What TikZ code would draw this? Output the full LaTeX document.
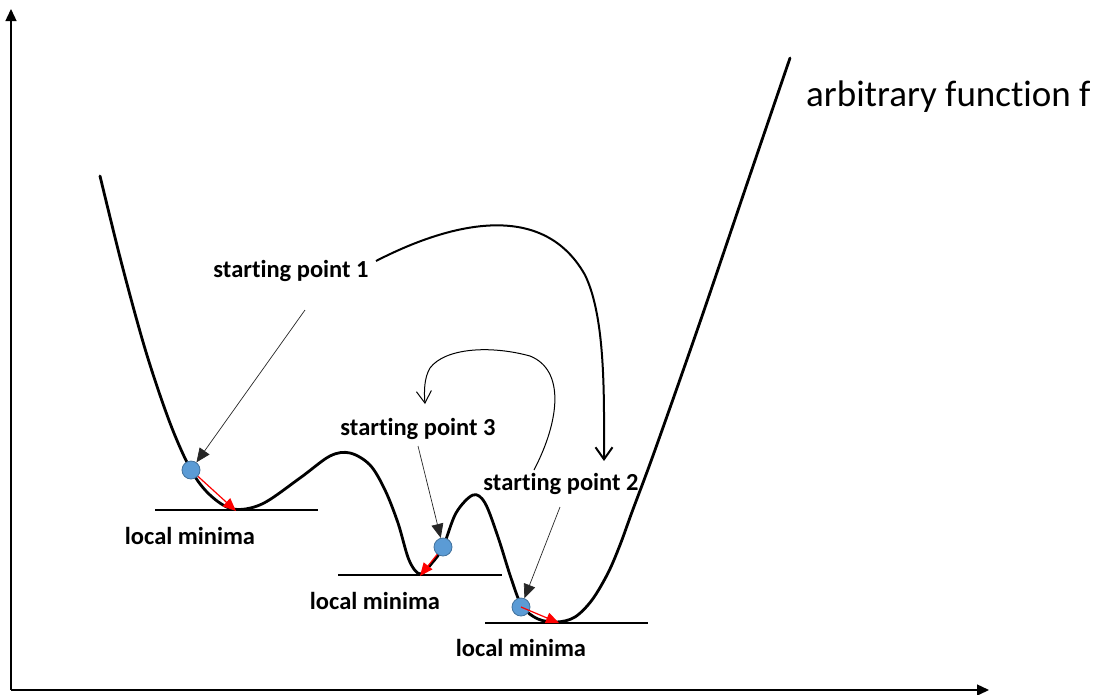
\documentclass[tikz,border=0pt]{standalone}
\usepackage{fontspec}
\setmainfont{Carlito}[Ligatures=NoCommon]
\usetikzlibrary{arrows.meta}
\definecolor{ballfill}{RGB}{91,155,213}
\definecolor{balledge}{RGB}{65,113,156}
\begin{document}
\begin{tikzpicture}[x=1pt,y=-1pt,
  axis/.style={line width=1.4pt,-{Triangle[length=12pt,width=11pt]}},
  func/.style={line width=2.8pt,line join=round,line cap=round},
  level/.style={line width=1.1pt},
  ball/.style={circle,minimum size=18pt,inner sep=0pt,fill=ballfill,draw=balledge,line width=0.8pt},
  grad/.style={red,line width=1.2pt,-{Triangle[length=13pt,width=11pt]}},
  pointer/.style={line width=0.7pt,black!85,-{Triangle[length=14pt,width=12pt]}},
  lbl/.style={font=\bfseries\fontsize{24.5}{28}\selectfont,inner sep=1pt},
  jump/.style={line width=2pt,-{Straight Barb[length=12pt,width=17pt,line width=2pt]}},
  hop/.style={line width=1pt,-{Straight Barb[length=12pt,width=15pt,line width=1pt]}}]
\useasboundingbox (0,0) rectangle (1099,694);

% axes
\coordinate (o) at (11,690);
\coordinate (ytop) at (11,9);
\coordinate (xend) at (989,690);
\draw[axis] (o) -- (ytop);
\draw[axis] (o) -- (xend);

% the function
\draw[func] plot[smooth,tension=0.55] coordinates {
  (100,176) (122,265) (146,352) (170,423) (191,470) (210,495) (233,509)
  (262,504) (300,478) (330,456) (350,453) (370,465) (385,490) (398,523)
  (409,560) (420,574) (432,563) (443,547) (456,513) (473,495) (485,503)
  (498,537) (511,578) (522,606) (538,619) (557,622) (575,617) (592,600)
  (608,573) (620,545) (632,512) (655,450) (700,322) (750,175) (790,58)};

% levels of the local minima
\draw[level] (155,510) -- (318,510);
\draw[level] (338,575) -- (502,575);
\draw[level] (485,623) -- (648,623);

% starting points
\node[ball] (p1) at (191,470) {};
\node[ball] (p3) at (443,547) {};
\node[ball] (p2) at (521,607) {};

% descent steps
\coordinate (m1) at (236,511);
\coordinate (m3) at (420,576);
\coordinate (m2) at (559,623);
\draw[grad] (p1) -- (m1);
\draw[grad] (p3) -- (m3);
\draw[grad] (p2.center) -- (m2);

% labels
\node[lbl] (s1) at (291,271) {starting point 1};
\node[lbl] (s3) at (418,429) {starting point 3};
\node[lbl] (s2) at (561,484) {starting point 2};
\node[lbl] (l1) at (190,536) {local minima};
\node[lbl] (l2) at (375,601) {local minima};
\node[lbl] (l3) at (521,648) {local minima};
\node[font=\fontsize{37}{42}\selectfont,anchor=west,inner sep=0pt] (f) at (806,97) {arbitrary function f};

% pointers from the labels
\coordinate (a1) at (305,310);
\coordinate (a3) at (418,446);
\coordinate (a2) at (560,507);
\draw[pointer] (a1) -- (p1);
\draw[pointer] (a3) -- (p3);
\draw[pointer] (a2) -- (p2);

% restarts
\coordinate (j1) at (376,261);
\coordinate (j1t) at (604,461);
\draw[jump] (j1) .. controls (440,228) and (540,195) .. (585,275)
  .. controls (606,318) and (604,400) .. (j1t);
\coordinate (h1) at (534,470);
\coordinate (h1t) at (425,404);
\draw[hop] (h1) .. controls (560,420) and (565,370) .. (530,356)
  .. controls (490,345) and (445,348) .. (430,368)
  .. controls (424,378) and (424,392) .. (h1t);
\end{tikzpicture}
\end{document}
